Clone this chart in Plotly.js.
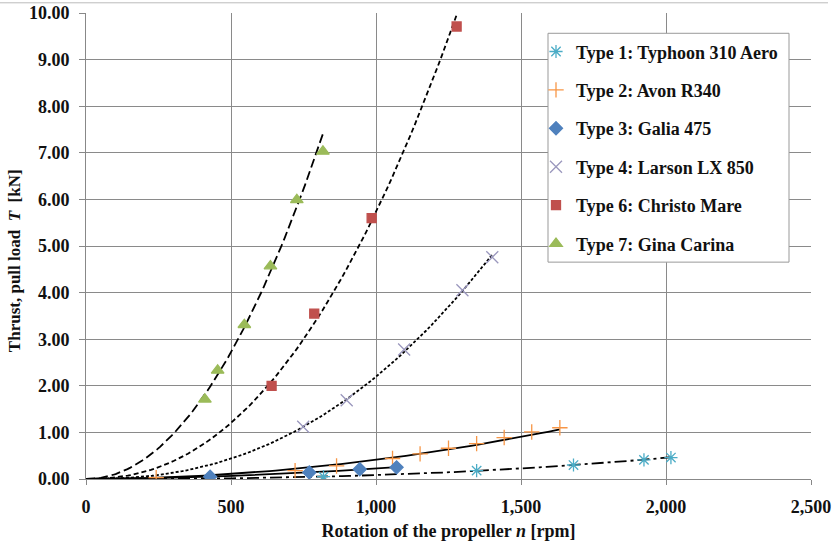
<!DOCTYPE html>
<html><head><meta charset="utf-8">
<script src="https://cdn.plot.ly/plotly-3.0.1.min.js"></script>
<style>html,body{margin:0;padding:0;background:#fff}#chart{width:833px;height:545px}</style>
</head><body><div id="chart"></div>
<script>
// Data (n in rpm, T in kN)
const seriesNames = ["Type 1: Typhoon 310 Aero","Type 2: Avon R340","Type 3: Galia 475","Type 4: Larson LX 850","Type 6: Christo Mare","Type 7: Gina Carina"];
const type1N = [819, 1347, 1681, 1924, 2017];
const type1T = [0.05, 0.18, 0.30, 0.41, 0.46];
const type2N = [242, 721, 864, 1057, 1152, 1250, 1347, 1442, 1537, 1634];
const type2T = [0.03, 0.18, 0.28, 0.44, 0.54, 0.66, 0.76, 0.89, 1.01, 1.10];
const type3N = [428, 770, 944, 1071];
const type3T = [0.05, 0.14, 0.21, 0.25];
const type4N = [749, 899, 1097, 1298, 1401];
const type4T = [1.12, 1.69, 2.78, 4.05, 4.76];
const type6N = [640, 787, 985, 1278];
const type6T = [2.00, 3.55, 5.60, 9.71];
const type7N = [410, 454, 546, 636, 727, 817];
const type7T = [1.71, 2.33, 3.31, 4.57, 5.99, 7.03];

const xTicks = [0, 500, 1000, 1500, 2000, 2500];
const xTickText = ["0","500","1,000","1,500","2,000","2,500"];
const yTicks = [0,1,2,3,4,5,6,7,8,9,10];
const yTickText = yTicks.map(v => v.toFixed(2));

const colors = ["#4BACC6","#F79646","#4F81BD","#9a97bd","#C0504D","#9BBB59"];
const symbols = ["asterisk-open","cross-thin-open","diamond","x-thin-open","square","triangle-up"];
const sizes = [11, 11, 10, 12, 9, 11];
const dashes = ["12px,4px,3px,4px","solid","solid","3px,2px","5px,3px","9px,4px"];
const allN = [type1N,type2N,type3N,type4N,type6N,type7N];
const allT = [type1T,type2T,type3T,type4T,type6T,type7T];

// Power-law trendline (least squares in log-log space), like a spreadsheet trendline
function powerFit(ns, ts){
  const lx = ns.map(Math.log), ly = ts.map(Math.log);
  const m = lx.length;
  const mx = lx.reduce((a,b)=>a+b,0)/m, my = ly.reduce((a,b)=>a+b,0)/m;
  let sxy=0, sxx=0;
  for(let i=0;i<m;i++){sxy+=(lx[i]-mx)*(ly[i]-my); sxx+=(lx[i]-mx)*(lx[i]-mx);}
  const b = sxy/sxx, a = Math.exp(my-b*mx);
  const maxN = Math.max(...ns);
  const xs=[], ys=[];
  for(let i=0;i<=80;i++){const x=maxN*i/80; xs.push(x); ys.push(a*Math.pow(x,b));}
  return {xs, ys};
}

const traces = [];
for(let k=0;k<6;k++){
  const f = powerFit(allN[k], allT[k]);
  traces.push({x:f.xs, y:f.ys, mode:"lines", showlegend:false, hoverinfo:"skip",
    line:{color:"#000", width:1.8, dash:dashes[k]}});
}
for(let k=0;k<6;k++){
  traces.push({x:allN[k], y:allT[k], mode:"markers", name:seriesNames[k], legendgroup:"g"+k,
    marker:{symbol:symbols[k], size:sizes[k], color:colors[k], line:{color:colors[k], width:1.3}}});
}

const FAM = "Liberation Serif, Times New Roman, serif";
const boldFont = (s) => ({family:FAM, size:s, color:"#111", weight:"bold"});
const L=86, R=811, T=12.7, B=479, W=833, H=545;
const px2x = (p) => (p-L)/(R-L);
const px2y = (p) => (B-p)/(B-T);

const layout = {
  width:W, height:H,
  margin:{l:L, r:W-R, t:T, b:H-B},
  paper_bgcolor:"#fff", plot_bgcolor:"#fff",
  font:{family:FAM, size:15, color:"#111"},
  showlegend:true,
  legend:{x:px2x(536), y:px2y(33), xanchor:"left", yanchor:"top",
    bgcolor:"rgba(0,0,0,0)", borderwidth:0,
    font:boldFont(18), tracegroupgap:12, itemwidth:30},
  xaxis:{range:[0,2500], tickvals:xTicks, ticktext:xTickText,
    showgrid:true, gridcolor:"#8a8a8a", gridwidth:1, zeroline:false,
    showline:true, linecolor:"#888", linewidth:1, ticks:"outside", ticklen:5, tickcolor:"#888",
    ticklabelstandoff:6,
    tickfont:boldFont(18),
    title:{text:"Rotation of the propeller <i>n</i> [rpm]", standoff:8, font:boldFont(18)}},
  yaxis:{range:[0,10], tickvals:yTicks, ticktext:yTickText,
    showgrid:true, gridcolor:"#8a8a8a", gridwidth:1, zeroline:false,
    showline:true, linecolor:"#888", linewidth:1, ticks:"outside", ticklen:6, tickcolor:"#888",
    ticklabelstandoff:6,
    tickfont:boldFont(18)},
  annotations:[{text:"Thrust, pull load  <i>T</i>  [kN]", textangle:-90, showarrow:false,
    xref:"paper", yref:"paper", x:px2x(14), y:px2y(261), xanchor:"center", yanchor:"middle",
    font:boldFont(17)}],
  shapes:[
    {type:"rect", xref:"paper", yref:"paper", x0:px2x(548), x1:px2x(789), y0:px2y(262), y1:px2y(33),
      fillcolor:"#fff", line:{color:"#999", width:1}, layer:"above"},
    {type:"line", xref:"paper", yref:"paper", x0:px2x(0), x1:px2x(828), y0:px2y(2.5), y1:px2y(2.5),
      line:{color:"#bbb", width:1}}
  ]
};
Plotly.newPlot("chart", traces, layout, {displayModeBar:false, staticPlot:true});
</script></body></html>
